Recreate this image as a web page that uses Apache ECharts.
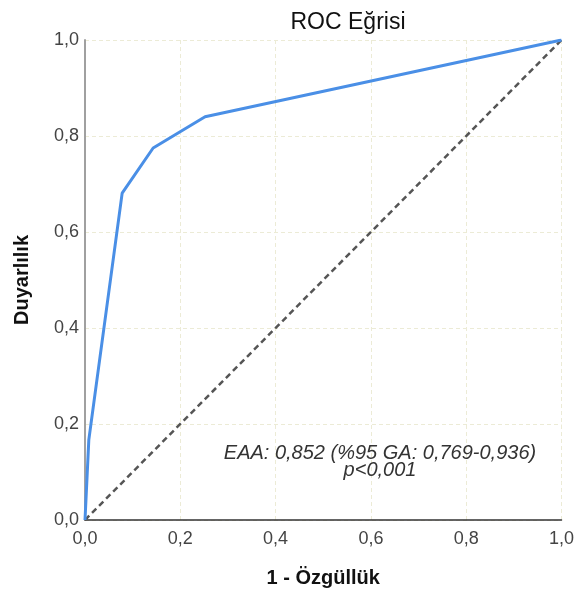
<!DOCTYPE html>
<html>
<head>
<meta charset="utf-8">
<script src="https://cdn.jsdelivr.net/npm/echarts@6/dist/echarts.min.js"></script>
<style>
  html, body { margin: 0; padding: 0; background: #fff; }
  #chart { width: 577px; height: 594px; }
</style>
</head>
<body>
<div id="chart"></div>
<script>
// ROC curve points: 1 - specificity, sensitivity
const fpr = [0, 0.008, 0.078, 0.143, 0.252, 1];
const tpr = [0, 0.167, 0.681, 0.775, 0.840, 1];
const refLine = [[0, 0], [1, 1]];
const tickLabels = ['0,0', '0,2', '0,4', '0,6', '0,8', '1,0'];
const note = ['EAA: 0,852 (%95 GA: 0,769-0,936)', 'p<0,001'];

const fmt = v => tickLabels[Math.round(v * 5)];
const chart = echarts.init(document.getElementById('chart'));

const gridLine = { show: true, lineStyle: { color: '#ecebd6', type: [4, 3], width: 1 } };

chart.setOption({
  animation: false,
  textStyle: { fontFamily: 'Liberation Sans, Arial, sans-serif' },
  title: [
    {
      text: 'ROC Eğrisi', left: 343, top: 6, textAlign: 'center',
      textStyle: { fontSize: 23, fontWeight: 'normal', color: '#111' }
    },
    {
      text: note[0] + '\n' + note[1], left: 375, top: 440, textAlign: 'center',
      textStyle: { fontSize: 20, fontStyle: 'italic', fontWeight: 'normal', color: '#333', lineHeight: 17 }
    }
  ],
  grid: { left: 85, right: 15, top: 40, bottom: 74 },
  xAxis: {
    type: 'value', min: 0, max: 1, interval: 0.2,
    name: '1 - Özgüllük', nameLocation: 'middle', nameGap: 48,
    nameTextStyle: { fontSize: 20, fontWeight: 'bold', color: '#111' },
    axisLine: { show: true, onZero: false, lineStyle: { color: '#333', width: 1.5 } },
    axisTick: { show: false },
    axisLabel: { formatter: fmt, fontSize: 18, color: '#444', margin: 10 },
    splitLine: gridLine
  },
  yAxis: {
    type: 'value', min: 0, max: 1, interval: 0.2,
    name: 'Duyarlılık', nameLocation: 'middle', nameGap: 53, nameRotate: 90,
    nameTextStyle: { fontSize: 20, fontWeight: 'bold', color: '#111' },
    axisLine: { show: true, lineStyle: { color: '#a0a0a0', width: 2 } },
    axisTick: { show: false },
    axisLabel: { formatter: fmt, fontSize: 18, color: '#444', margin: 6 },
    splitLine: gridLine
  },
  series: [
    {
      type: 'line', data: refLine, symbol: 'none', z: 2,
      lineStyle: { color: '#555', width: 2.5, type: [6, 4] }
    },
    {
      type: 'line', data: fpr.map((x, i) => [x, tpr[i]]), symbol: 'none', z: 3,
      lineStyle: { color: '#4a8fe6', width: 3 }
    }
  ]
});
</script>
</body>
</html>
